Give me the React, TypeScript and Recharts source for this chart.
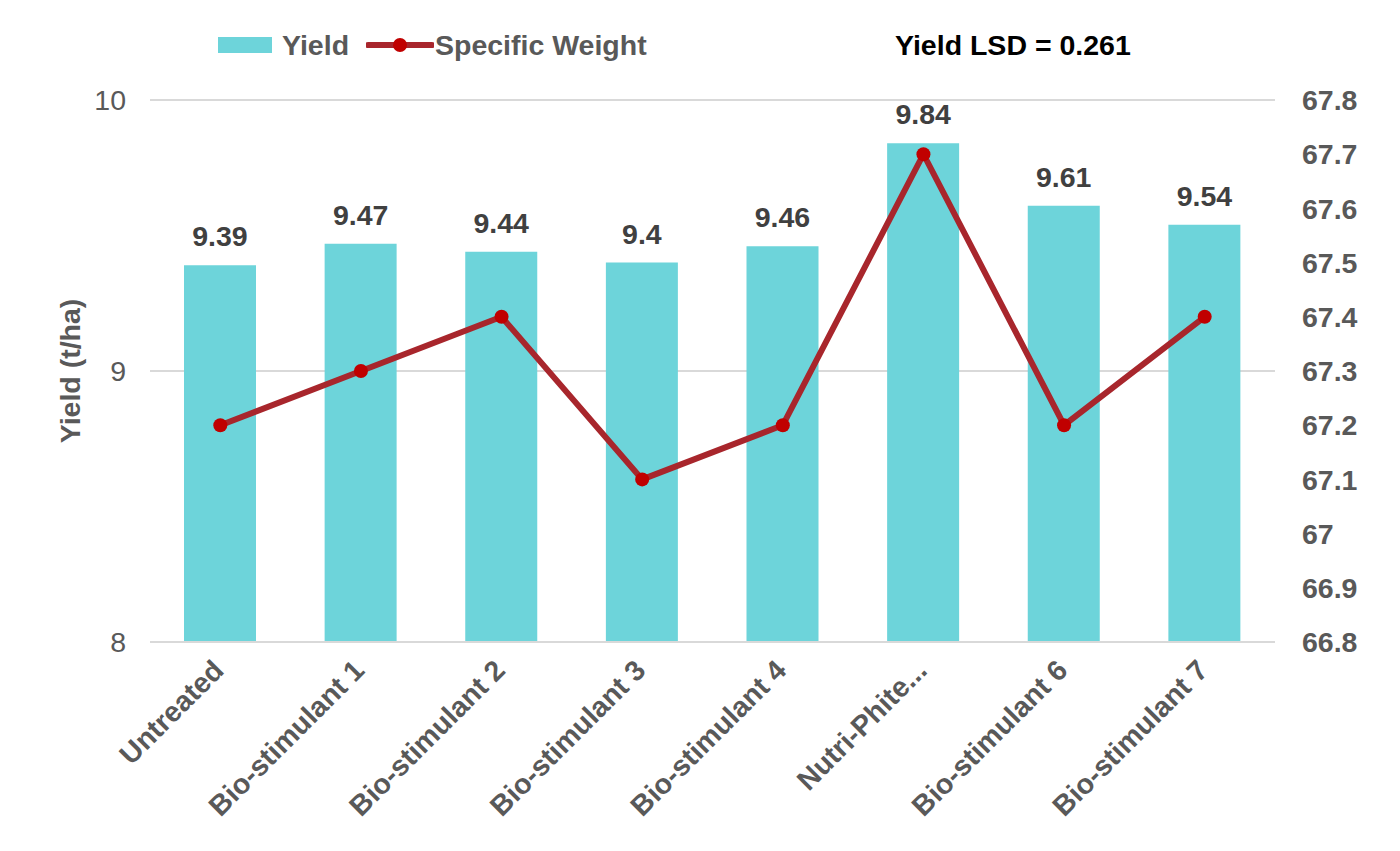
import React from 'react';
import { ComposedChart, Bar, Line, XAxis, YAxis, CartesianGrid, Legend, LabelList, Label } from 'recharts';

const treatments = [
  'Untreated',
  'Bio-stimulant 1',
  'Bio-stimulant 2',
  'Bio-stimulant 3',
  'Bio-stimulant 4',
  'Nutri-Phite...',
  'Bio-stimulant 6',
  'Bio-stimulant 7',
];
const yieldValues = [9.39, 9.47, 9.44, 9.4, 9.46, 9.84, 9.61, 9.54];
const specificWeight = [67.2, 67.3, 67.4, 67.1, 67.2, 67.7, 67.2, 67.4];
const yieldTicks = [8, 9, 10];
const weightTicks = [66.8, 66.9, 67, 67.1, 67.2, 67.3, 67.4, 67.5, 67.6, 67.7, 67.8];
const lsdText = 'Yield LSD = 0.261';

const FONT = '"Liberation Sans", Arial, sans-serif';
const FS = 28.5;
const GREY = '#595959';
const BAR = '#6DD4DA';
const LINE = '#A8262C';
const DOT = '#C00000';

const chartData = treatments.map((t, i) => ({
  name: t,
  Yield: yieldValues[i],
  'Specific Weight': specificWeight[i],
}));

const CategoryTick = (props: any) => {
  const { x, y, payload } = props;
  return (
    <g transform={`translate(${x - 9},${y + 8})`}>
      <text
        transform="rotate(-45)"
        textAnchor="end"
        dy="0.7em"
        fill={GREY}
        fontSize={FS}
        fontWeight="bold"
        fontFamily={FONT}
      >
        {payload.value}
      </text>
    </g>
  );
};

const LegendBox = () => (
  <div style={{ position: 'relative', width: 1400, height: 90, fontFamily: FONT, fontWeight: 'bold', fontSize: FS }}>
    <div style={{ position: 'absolute', left: 218, top: 37, width: 54, height: 16, background: BAR }} />
    <div style={{ position: 'absolute', left: 282, top: 28, color: GREY, lineHeight: '34px' }}>Yield</div>
    <svg style={{ position: 'absolute', left: 366, top: 30 }} width={68} height={30}>
      <line x1={2} y1={15} x2={66} y2={15} stroke={LINE} strokeWidth={6} strokeLinecap="round" />
      <circle cx={34} cy={15} r={7} fill={DOT} />
    </svg>
    <div style={{ position: 'absolute', left: 435, top: 28, color: GREY, lineHeight: '34px' }}>Specific Weight</div>
    <div style={{ position: 'absolute', left: 895, top: 28, color: '#000', lineHeight: '34px' }}>{lsdText}</div>
  </div>
);

export default function App() {
  return (
    <div style={{ position: 'absolute', left: 0, top: 0, background: '#fff' }}>
      <ComposedChart
        width={1400}
        height={851}
        data={chartData}
        margin={{ top: 100, right: 0, bottom: 0, left: 0 }}
        barCategoryGap="0%"
      >
        <CartesianGrid yAxisId="left" vertical={false} stroke="#D9D9D9" strokeWidth={2} />
        <XAxis
          dataKey="name"
          height={209}
          interval={0}
          tick={<CategoryTick />}
          tickLine={false}
          axisLine={{ stroke: '#D9D9D9', strokeWidth: 2 }}
        />
        <YAxis
          yAxisId="left"
          width={150}
          domain={[8, 10]}
          ticks={yieldTicks}
          tickSize={0}
          tickMargin={24}
          axisLine={false}
          tickLine={false}
          tick={{ fill: GREY, fontSize: FS, fontFamily: FONT }}
        >
          <Label
            value="Yield (t/ha)"
            angle={-90}
            position="center"
            dx={-5}
            fill={GREY}
            fontSize={FS}
            fontWeight="bold"
            fontFamily={FONT}
          />
        </YAxis>
        <YAxis
          yAxisId="right"
          orientation="right"
          width={125}
          domain={[66.8, 67.8]}
          ticks={weightTicks}
          tickSize={0}
          tickMargin={27}
          axisLine={false}
          tickLine={false}
          tick={{ fill: GREY, fontSize: FS, fontWeight: 'bold', fontFamily: FONT }}
        />
        <Legend
          layout="horizontal"
          verticalAlign="middle"
          align="center"
          wrapperStyle={{ top: 0, left: 0, width: 1400 }}
          content={<LegendBox />}
        />
        <Bar yAxisId="left" dataKey="Yield" fill={BAR} barSize={72} isAnimationActive={false}>
          <LabelList
            dataKey="Yield"
            position="top"
            offset={19}
            fill="#404040"
            fontSize={FS}
            fontWeight="bold"
            fontFamily={FONT}
          />
        </Bar>
        <Line
          yAxisId="right"
          type="linear"
          dataKey="Specific Weight"
          stroke={LINE}
          strokeWidth={6}
          dot={{ r: 7, fill: DOT, stroke: 'none' }}
          activeDot={false}
          isAnimationActive={false}
        />
      </ComposedChart>
    </div>
  );
}
